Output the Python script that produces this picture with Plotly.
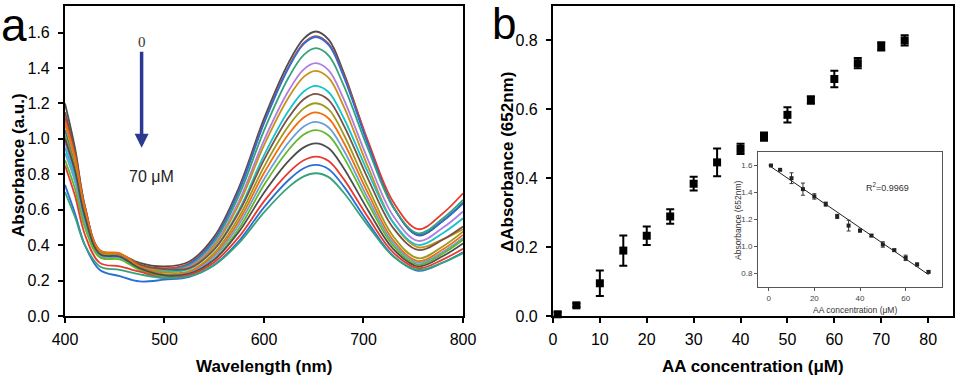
import numpy as np
import plotly.graph_objects as go

# ---- panel a: UV-vis spectra ----
wavelength = [400, 410, 420, 435, 455, 475, 500, 525, 550, 575, 600, 625, 640, 652,
              665, 680, 705, 730, 755, 780, 800]

spec_00 = [1.20, 0.95, 0.62, 0.37, 0.35, 0.30, 0.28, 0.308, 0.448, 0.728, 1.114, 1.433, 1.566, 1.606, 1.560, 1.376, 0.973, 0.616, 0.455, 0.538, 0.640]
spec_01 = [1.12, 0.90, 0.60, 0.36, 0.35, 0.29, 0.27, 0.298, 0.436, 0.712, 1.093, 1.409, 1.541, 1.580, 1.536, 1.362, 0.981, 0.643, 0.490, 0.581, 0.693]
spec_02 = [1.05, 0.85, 0.57, 0.35, 0.34, 0.28, 0.26, 0.293, 0.431, 0.707, 1.088, 1.404, 1.536, 1.575, 1.530, 1.352, 0.961, 0.614, 0.458, 0.538, 0.635]
spec_03 = [1.00, 0.82, 0.55, 0.35, 0.34, 0.28, 0.26, 0.286, 0.418, 0.682, 1.047, 1.349, 1.474, 1.512, 1.470, 1.303, 0.937, 0.613, 0.467, 0.552, 0.655]
spec_04 = [0.98, 0.80, 0.55, 0.35, 0.34, 0.28, 0.255, 0.279, 0.403, 0.650, 0.992, 1.274, 1.392, 1.427, 1.387, 1.226, 0.875, 0.564, 0.424, 0.499, 0.590]
spec_05 = [1.08, 0.88, 0.60, 0.36, 0.35, 0.29, 0.26, 0.273, 0.393, 0.632, 0.963, 1.236, 1.350, 1.384, 1.344, 1.185, 0.836, 0.527, 0.388, 0.434, 0.490]
spec_06 = [0.95, 0.78, 0.53, 0.34, 0.33, 0.27, 0.25, 0.266, 0.378, 0.600, 0.907, 1.161, 1.267, 1.299, 1.263, 1.119, 0.805, 0.527, 0.401, 0.469, 0.552]
spec_07 = [1.15, 0.93, 0.62, 0.37, 0.35, 0.29, 0.265, 0.270, 0.376, 0.588, 0.881, 1.123, 1.224, 1.254, 1.219, 1.078, 0.769, 0.496, 0.373, 0.432, 0.505]
spec_08 = [1.02, 0.84, 0.57, 0.36, 0.35, 0.28, 0.245, 0.254, 0.356, 0.560, 0.842, 1.075, 1.172, 1.201, 1.166, 1.026, 0.720, 0.449, 0.326, 0.394, 0.476]
spec_09 = [1.10, 0.90, 0.61, 0.37, 0.355, 0.28, 0.235, 0.248, 0.345, 0.539, 0.807, 1.029, 1.121, 1.149, 1.115, 0.981, 0.688, 0.427, 0.310, 0.377, 0.458]
spec_10 = [0.92, 0.76, 0.52, 0.34, 0.33, 0.27, 0.23, 0.242, 0.334, 0.518, 0.772, 0.982, 1.070, 1.096, 1.064, 0.937, 0.658, 0.411, 0.300, 0.363, 0.440]
spec_11 = [0.88, 0.72, 0.50, 0.33, 0.32, 0.26, 0.225, 0.231, 0.319, 0.495, 0.739, 0.940, 1.024, 1.049, 1.019, 0.897, 0.632, 0.396, 0.290, 0.353, 0.430]
spec_12 = [1.00, 0.82, 0.56, 0.35, 0.335, 0.27, 0.23, 0.239, 0.318, 0.477, 0.696, 0.877, 0.952, 0.975, 0.947, 0.836, 0.593, 0.377, 0.280, 0.339, 0.410]
spec_13 = [0.85, 0.68, 0.46, 0.30, 0.28, 0.25, 0.215, 0.232, 0.304, 0.448, 0.647, 0.811, 0.879, 0.900, 0.875, 0.774, 0.554, 0.358, 0.270, 0.320, 0.380]
spec_14 = [0.74, 0.58, 0.40, 0.26, 0.225, 0.195, 0.205, 0.221, 0.289, 0.425, 0.613, 0.769, 0.834, 0.853, 0.829, 0.733, 0.524, 0.339, 0.255, 0.302, 0.360]
spec_15 = [0.70, 0.56, 0.40, 0.28, 0.26, 0.235, 0.215, 0.225, 0.287, 0.413, 0.585, 0.729, 0.788, 0.806, 0.784, 0.697, 0.506, 0.336, 0.260, 0.303, 0.355]

spectra = [spec_00, spec_01, spec_02, spec_03, spec_04, spec_05, spec_06, spec_07,
           spec_08, spec_09, spec_10, spec_11, spec_12, spec_13, spec_14, spec_15]
spec_colors = ["#4d4d4d", "#e8392f", "#2a6fd6", "#35a27a", "#b07de0", "#c5921a",
               "#17c3c8", "#7b5147", "#9c9a1a", "#f56c0e", "#6b9fd6", "#62b82b",
               "#4d4d4d", "#e8392f", "#2a6fd6", "#35a27a"]

# ---- panel b: delta absorbance vs AA concentration ----
aa_conc = [1, 5, 10, 15, 20, 25, 30, 35, 40, 45, 50, 55, 60, 65, 70, 75]
delta_abs = [0.005, 0.031, 0.095, 0.19, 0.233, 0.289, 0.384, 0.446, 0.485, 0.521,
             0.584, 0.627, 0.688, 0.734, 0.783, 0.800]
delta_err = [0.006, 0.005, 0.037, 0.044, 0.027, 0.021, 0.02, 0.04, 0.015, 0.012,
             0.022, 0.011, 0.024, 0.015, 0.012, 0.015]

# ---- inset: linear range ----
inset_conc = [1, 5, 10, 15, 20, 25, 30, 35, 40, 45, 50, 55, 60, 65, 70]
inset_abs = [1.600, 1.568, 1.506, 1.425, 1.371, 1.314, 1.223, 1.155, 1.118, 1.081,
             1.015, 0.973, 0.916, 0.867, 0.812]
inset_err = [0.005, 0.005, 0.04, 0.045, 0.02, 0.015, 0.015, 0.04, 0.01, 0.008,
             0.02, 0.008, 0.02, 0.01, 0.008]

FONT = "Liberation Sans, Arial, sans-serif"

fig = go.Figure()

for ys, c in zip(spectra, spec_colors):
    fig.add_trace(go.Scatter(x=wavelength, y=ys, mode="lines", line=dict(color=c, width=1.8, shape="spline", smoothing=1.0),
                             xaxis="x", yaxis="y", showlegend=False, hoverinfo="skip"))

fig.add_trace(go.Scatter(x=aa_conc, y=delta_abs, mode="markers",
                         marker=dict(symbol="square", size=8, color="black"),
                         error_y=dict(type="data", array=delta_err, color="black", thickness=2, width=4),
                         xaxis="x2", yaxis="y2", showlegend=False, cliponaxis=False))

# linear fit for the inset
slope, icpt = np.polyfit(inset_conc, inset_abs, 1)
fit_x = [0, 70]
fit_y = [icpt + slope * v for v in fit_x]
fig.add_trace(go.Scatter(x=fit_x, y=fit_y, mode="lines", line=dict(color="#222", width=1),
                         xaxis="x3", yaxis="y3", showlegend=False))
fig.add_trace(go.Scatter(x=inset_conc, y=inset_abs, mode="markers",
                         marker=dict(symbol="square", size=4, color="#222"),
                         error_y=dict(type="data", array=inset_err, color="#333", thickness=1, width=2),
                         xaxis="x3", yaxis="y3", showlegend=False))

ydom = [0.1684, 0.9842]
main_ax = dict(showline=True, linecolor="black", linewidth=2, mirror=True, ticks="outside",
               ticklen=5, tickwidth=1.5, tickcolor="black", showgrid=False, zeroline=False,
               automargin=False, tickfont=dict(family=FONT, size=16, color="black"))
inset_ax = dict(showline=True, linecolor="#555", linewidth=1, mirror=True, ticks="outside", ticklen=3,
                tickcolor="#555", showgrid=False, zeroline=False, automargin=False,
                tickfont=dict(family=FONT, size=8, color="#444"))

fig.update_layout(
    width=957, height=380, margin=dict(l=0, r=0, t=0, b=0),
    paper_bgcolor="white", plot_bgcolor="white",
    xaxis=dict(main_ax, domain=[0.0679, 0.4838], range=[400, 800], tickvals=[400, 500, 600, 700, 800],
               anchor="y", ticklabelstandoff=3),
    yaxis=dict(main_ax, domain=ydom, range=[0, 1.75], tickvals=[0, 0.2, 0.4, 0.6, 0.8, 1.0, 1.2, 1.4, 1.6],
               tickformat=".1f", anchor="x", ticklabelstandoff=5),
    xaxis2=dict(main_ax, domain=[0.5778, 0.9958], range=[0, 85.3], tickvals=list(range(0, 81, 10)),
                anchor="y2", ticklabelstandoff=3),
    yaxis2=dict(main_ax, domain=ydom, range=[0, 0.9], tickvals=[0, 0.2, 0.4, 0.6, 0.8],
                tickformat=".1f", anchor="x2", ticklabelstandoff=5),
    xaxis3=dict(inset_ax, domain=[0.792, 0.9843], range=[-4.7, 75.9], tickvals=[0, 20, 40, 60], anchor="y3"),
    yaxis3=dict(inset_ax, domain=[0.2447, 0.6], range=[0.7, 1.7], tickvals=[0.8, 1.0, 1.2, 1.4, 1.6],
                tickformat=".1f", anchor="x3"),
)


def px_ann(text, px, py, size, angle=0, color="black", family=FONT, xanchor="center"):
    return dict(text=text, x=px / 957, y=1 - py / 380, xref="paper", yref="paper",
                xanchor=xanchor, yanchor="middle", textangle=angle, showarrow=False,
                font=dict(family=family, size=size, color=color))


ann = [
    px_ann("a", -1, 25, 46, xanchor="left"),
    px_ann("b", 490, 24, 44, xanchor="left"),
    px_ann("<b>Wavelength (nm)</b>", 264, 366, 17),
    px_ann("<b>Absorbance (a.u.)</b>", 18, 165, 17, angle=-90),
    px_ann("<b>AA concentration (μM)</b>", 753, 366, 17),
    px_ann("<b>ΔAbsorbance (652nm)</b>", 507, 162, 17, angle=-90),
    px_ann("AA concentration (μM)", 855, 310, 8.5, color="#333"),
    px_ann("Absorbance (652nm)", 738, 220, 8.5, angle=-90, color="#333"),
    dict(text="R<sup>2</sup>=0.9969", x=52, y=1.44, xref="x3", yref="y3", xanchor="center", yanchor="middle",
         showarrow=False, font=dict(family=FONT, size=9, color="#333")),
    # arrow in panel a
    dict(x=477, y=0.95, ax=477, ay=1.50, xref="x", yref="y", axref="x", ayref="y", text="",
         showarrow=True, arrowhead=2, arrowsize=0.8, arrowwidth=3.5, arrowcolor="#2b3990"),
    dict(text="0", x=477, y=1.545, xref="x", yref="y", xanchor="center", yanchor="middle", showarrow=False,
         font=dict(family="Liberation Serif, Times New Roman, serif", size=15, color="#333")),
    dict(text="70 μM", x=487, y=0.786, xref="x", yref="y", xanchor="center", yanchor="middle", showarrow=False,
         font=dict(family=FONT, size=16, color="#222")),
]

fig.update_layout(annotations=ann)

# drop the default 8px page margin so the figure fills the window exactly
fig.write_html("out.html", config={"displayModeBar": False},
               post_script="document.body.style.margin='0';")
